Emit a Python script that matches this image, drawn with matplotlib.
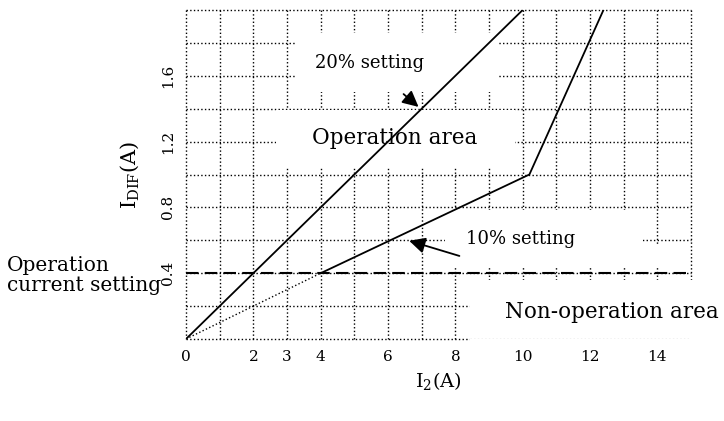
import matplotlib
matplotlib.use('Agg')
import matplotlib.pyplot as plt
from matplotlib.patches import Rectangle

plt.rcParams['font.family'] = 'DejaVu Serif'
plt.rcParams['mathtext.fontset'] = 'dejavuserif'

# characteristic lines
i2_20 = [0, 10]
idif_20 = [0, 2.0]
i2_10 = [4, 10.2, 12.4]
idif_10 = [0.4, 1.0, 2.0]
i2_10_ext = [0, 4]
idif_10_ext = [0, 0.4]
op_setting = 0.4

xticks = [0, 2, 3, 4, 6, 8, 10, 12, 14]
yticks = [0.4, 0.8, 1.2, 1.6]

fig = plt.figure(figsize=(7.24, 4.21), dpi=100)
ax = fig.add_axes([0.2569, 0.1948, 0.6975, 0.7814])
ax.set_xlim(0, 15)
ax.set_ylim(0, 2.0)
for s in ax.spines.values():
    s.set_visible(False)

# dotted grid, one cell per unit / 0.2
for xv in range(16):
    ax.axvline(xv, color='k', ls=':', lw=1.0, zorder=1, clip_on=False)
for k in range(11):
    ax.axhline(k * 0.2, color='k', ls=':', lw=1.0, zorder=1, clip_on=False)

# white label backgrounds hiding the grid
boxes = [(3.24, 1.50, 6.03, 0.36), (2.67, 1.045, 7.1, 0.345),
         (7.69, 0.438, 5.88, 0.346), (13.57, 0.438, 1.1, 0.142),
         (8.43, -0.01, 7.2, 0.37)]
for bx, by, bw, bh in boxes:
    ax.add_patch(Rectangle((bx, by), bw, bh, facecolor='white', edgecolor='none',
                           zorder=2, clip_on=False))
ax.plot([8.43, 15], [0, 0], color='#bbbbbb', ls=':', lw=1.0, zorder=2)

ax.plot(i2_20, idif_20, color='k', lw=1.3, zorder=4)
ax.plot(i2_10, idif_10, color='k', lw=1.3, zorder=4)
ax.plot(i2_10_ext, idif_10_ext, color='k', ls=':', lw=1.0, zorder=4)
ax.axhline(op_setting, color='k', ls=(0, (6, 3)), lw=1.5, zorder=4)

ax.set_xticks(xticks)
ax.set_xticklabels([str(v) for v in xticks], fontsize=11)
ax.set_yticks(yticks)
ax.set_yticklabels([str(v) for v in yticks], fontsize=11, rotation=90, va='center')
ax.tick_params(length=0, pad=8)
ax.set_xlabel(r'I$_{2}$(A)', fontsize=14, labelpad=4)
ax.set_ylabel(r'I$_{\mathrm{DIF}}$(A)', fontsize=15, labelpad=14)

ax.text(5.45, 1.68, '20% setting', fontsize=13, ha='center', va='center', zorder=5)
ax.text(6.2, 1.22, 'Operation area', fontsize=15.5, ha='center', va='center', zorder=5)
ax.text(9.95, 0.61, '10% setting', fontsize=13, ha='center', va='center', zorder=5)
ax.text(12.65, 0.165, 'Non-operation area', fontsize=15.5, ha='center', va='center',
        zorder=5, clip_on=False)
fig.text(0.009, 0.345, 'Operation\ncurrent setting', fontsize=14.5, ha='left',
         va='center', linespacing=1.05)

ax.annotate('', xy=(6.97, 1.40), xytext=(6.4, 1.50),
            arrowprops=dict(arrowstyle='-|>', color='k', lw=1.3, mutation_scale=24),
            zorder=5)
ax.annotate('', xy=(6.55, 0.602), xytext=(8.2, 0.50),
            arrowprops=dict(arrowstyle='-|>', color='k', lw=1.3, mutation_scale=24),
            zorder=5)

fig.savefig('out.png', dpi=100)
